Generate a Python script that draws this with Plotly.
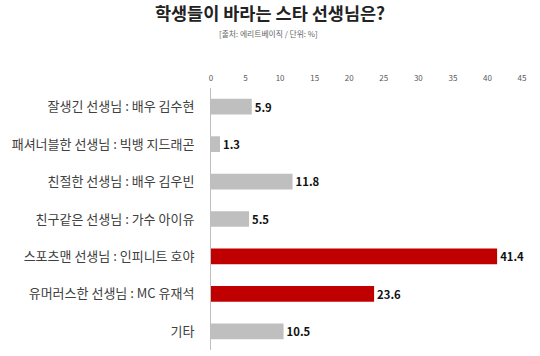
import plotly.graph_objects as go

categories = [
    "잘생긴 선생님 : 배우 김수현",
    "패셔너블한 선생님 : 빅뱅 지드래곤",
    "친절한 선생님 : 배우 김우빈",
    "친구같은 선생님 : 가수 아이유",
    "스포츠맨 선생님 : 인피니트 호야",
    "유머러스한 선생님 : MC 유재석",
    "기타",
]
values = [5.9, 1.3, 11.8, 5.5, 41.4, 23.6, 10.5]
highlight = [False, False, False, False, True, True, False]
tick_vals = [0, 5, 10, 15, 20, 25, 30, 35, 40, 45]

GRAY = "#BFBFBF"
RED = "#C00000"
colors = [RED if h else GRAY for h in highlight]

fig = go.Figure(go.Bar(
    x=values,
    y=categories,
    orientation="h",
    marker=dict(color=colors, line=dict(width=0)),
    text=[f"{v:.1f}" for v in values],
    textposition="outside",
    textfont=dict(family="Noto Sans CJK KR", size=11.5, color="#111111"),
    texttemplate="<b>%{text}</b>",
    cliponaxis=False,
    width=0.42,
))

fig.update_layout(
    width=540, height=356,
    margin=dict(l=211, r=18, t=88, b=6),
    paper_bgcolor="white", plot_bgcolor="white",
    showlegend=False,
    font=dict(family="Noto Sans CJK KR", color="#404040"),
    title=dict(
        text="<b>학생들이 바라는 스타 선생님은?</b>",
        x=0.5, xanchor="center", y=0.96, yanchor="middle",
        font=dict(size=17.5, color="#222222", family="Noto Sans CJK KR"),
    ),
    annotations=[dict(
        text="[출처: 에리트베이직 / 단위: %]",
        xref="paper", yref="paper", x=(268 - 211) / (540 - 211 - 18), y=1.0,
        yshift=55, xanchor="center", yanchor="middle", showarrow=False,
        font=dict(size=7.8, color="#666666", family="Noto Sans CJK KR"),
    )],
)

fig.update_xaxes(
    range=[0, 45], side="top", tickvals=tick_vals,
    showgrid=False, zeroline=False, showline=False, ticks="",
    ticklabelstandoff=4,
    tickfont=dict(size=8, color="#595959", family="Noto Sans CJK KR"),
    automargin=False, fixedrange=True,
)
fig.update_yaxes(
    categoryorder="array", categoryarray=categories, autorange="reversed",
    showgrid=False, zeroline=False, showline=True, linecolor="#BFBFBF", linewidth=1,
    ticks="", ticklabelstandoff=13,
    tickfont=dict(size=13, color="#404040", family="Noto Sans CJK KR"),
    automargin=False, fixedrange=True,
)

fig.write_html(
    "out.html",
    config={"displayModeBar": False},
    post_script="document.body.style.margin='0';document.body.style.overflow='hidden';",
)
